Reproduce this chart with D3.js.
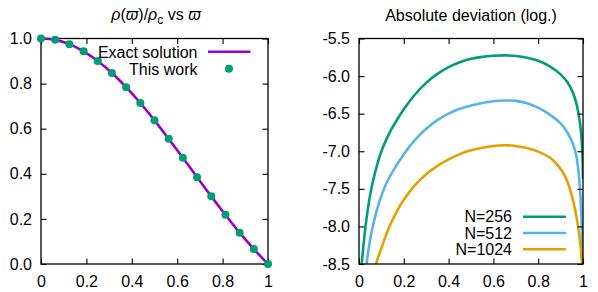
<!DOCTYPE html>
<html>
<head>
<meta charset="utf-8">
<script src="https://cdn.jsdelivr.net/npm/d3@7"></script>
<style>
  body { margin: 0; background: #fff; }
  svg { display: block; font-family: "Liberation Sans", Arial, sans-serif; }
</style>
</head>
<body>
<svg id="chart" width="598" height="292"></svg>
<script>
// Left panel: density profile
const omega = [0, 0.0625, 0.125, 0.1875, 0.25, 0.3125, 0.375, 0.4375, 0.5,
               0.5625, 0.625, 0.6875, 0.75, 0.8125, 0.875, 0.9375, 1];
const rhoExact = [1, 0.994, 0.975, 0.943, 0.900, 0.847, 0.784, 0.714, 0.637,
                  0.555, 0.471, 0.385, 0.300, 0.218, 0.139, 0.066, 0];
const rhoThisWork = [1, 0.994, 0.975, 0.943, 0.900, 0.847, 0.784, 0.714, 0.637,
                     0.555, 0.471, 0.385, 0.300, 0.218, 0.139, 0.066, 0];

const leftXTicks = [0, 0.2, 0.4, 0.6, 0.8, 1];
const leftXLabels = ["0", "0.2", "0.4", "0.6", "0.8", "1"];
const leftYTicks = [0, 0.2, 0.4, 0.6, 0.8, 1];
const leftYLabels = ["0.0", "0.2", "0.4", "0.6", "0.8", "1.0"];

// Right panel: log10 of absolute deviation
const devX256 = [0.005, 0.01, 0.02, 0.03, 0.04, 0.05, 0.06, 0.08, 0.1, 0.125, 0.15, 0.2,
                 0.25, 0.3, 0.35, 0.4, 0.45, 0.5, 0.55, 0.6, 0.65, 0.7, 0.75, 0.8,
                 0.85, 0.9, 0.93, 0.955, 0.97, 0.98, 0.988, 0.994, 0.998, 1.0];
const devY256 = [-8.80, -8.58, -8.25, -7.98, -7.76, -7.58, -7.43, -7.19, -7.00, -6.825, -6.68, -6.44,
                 -6.245, -6.09, -5.97, -5.88, -5.815, -5.77, -5.744, -5.73, -5.725, -5.732, -5.755, -5.797,
                 -5.867, -5.977, -6.08, -6.22, -6.36, -6.50, -6.66, -6.85, -7.10, -7.37];

const devX512 = [0.02, 0.03, 0.04, 0.05, 0.06, 0.08, 0.1, 0.125, 0.15, 0.2,
                 0.25, 0.3, 0.35, 0.4, 0.45, 0.5, 0.55, 0.6, 0.65, 0.7,
                 0.75, 0.8, 0.85, 0.9, 0.93, 0.955, 0.97, 0.978, 0.984, 0.989,
                 0.993, 0.996, 0.998, 1.0];
const devY512 = [-8.95, -8.60, -8.36, -8.17, -8.02, -7.78, -7.59, -7.41, -7.27, -7.04,
                 -6.85, -6.70, -6.585, -6.50, -6.435, -6.39, -6.357, -6.335, -6.325, -6.33,
                 -6.36, -6.42, -6.51, -6.63, -6.75, -6.90, -7.06, -7.22, -7.40, -7.62,
                 -7.88, -8.18, -8.46, -8.90];

const devX1024 = [0.05, 0.06, 0.075, 0.1, 0.125, 0.15, 0.2, 0.25, 0.3, 0.35,
                  0.4, 0.45, 0.5, 0.55, 0.6, 0.65, 0.7, 0.75, 0.8, 0.85,
                  0.88, 0.91, 0.93, 0.95, 0.965, 0.975, 0.983, 0.989, 0.994, 0.998, 1.0];
const devY1024 = [-8.93, -8.74, -8.51, -8.29, -8.08, -7.91, -7.645, -7.45, -7.305, -7.195,
                  -7.108, -7.038, -6.988, -6.953, -6.93, -6.92, -6.93, -6.957, -7.005, -7.08,
                  -7.16, -7.28, -7.40, -7.59, -7.78, -7.94, -8.11, -8.27, -8.44, -8.62, -8.80];

const rightXTicks = [0, 0.2, 0.4, 0.6, 0.8, 1];
const rightXLabels = ["0", "0.2", "0.4", "0.6", "0.8", "1"];
const rightYTicks = [-8.5, -8, -7.5, -7, -6.5, -6, -5.5];
const rightYLabels = ["-8.5", "-8.0", "-7.5", "-7.0", "-6.5", "-6.0", "-5.5"];

const seriesNames = ["N=256", "N=512", "N=1024"];
const seriesColors = ["#009e73", "#56b4e9", "#e69f00"];

const svg = d3.select("#chart");
svg.append("rect").attr("width", 598).attr("height", 292).attr("fill", "#fff");

const plotTop = 38.5, plotBottom = 264;

// draws a gnuplot-like boxed frame with inward mirrored ticks
function drawFrame(g, x, y, xTicks, xLabels, yTicks, yLabels) {
    const [x0, x1] = x.range();
    const [y0, y1] = y.range();

    const styleAxis = sel => {
        sel.select(".domain").remove();
        sel.selectAll("line").attr("stroke", "#000").attr("stroke-width", 1.1);
        sel.selectAll("text").attr("font-size", 16).attr("fill", "#000")
           .attr("font-family", '"Liberation Sans", Arial, sans-serif');
        sel.attr("font-family", null).attr("font-size", null);
    };

    g.append("g").attr("transform", `translate(0,${y0})`)
     .call(d3.axisBottom(x).tickValues(xTicks).tickFormat((d, i) => xLabels[i])
             .tickSizeInner(-5.5).tickSizeOuter(0).tickPadding(12))
     .call(styleAxis);
    g.append("g").attr("transform", `translate(0,${y1})`)
     .call(d3.axisTop(x).tickValues(xTicks).tickFormat("")
             .tickSizeInner(-5.5).tickSizeOuter(0))
     .call(styleAxis);
    g.append("g").attr("transform", `translate(${x0},0)`)
     .call(d3.axisLeft(y).tickValues(yTicks).tickFormat((d, i) => yLabels[i])
             .tickSizeInner(-5.5).tickSizeOuter(0).tickPadding(9))
     .call(styleAxis);
    g.append("g").attr("transform", `translate(${x1},0)`)
     .call(d3.axisRight(y).tickValues(yTicks).tickFormat("")
             .tickSizeInner(-5.5).tickSizeOuter(0))
     .call(styleAxis);

    g.append("rect")
     .attr("x", x0).attr("y", y1)
     .attr("width", x1 - x0).attr("height", y0 - y1)
     .attr("fill", "none").attr("stroke", "#000").attr("stroke-width", 1.3);
}

// ---- Left panel ----
const xL = d3.scaleLinear().domain([0, 1]).range([41, 268]);
const yL = d3.scaleLinear().domain([0, 1]).range([plotBottom, plotTop]);
const left = svg.append("g");
drawFrame(left, xL, yL, leftXTicks, leftXLabels, leftYTicks, leftYLabels);

const exactLine = d3.line()
    .x((d, i) => xL(omega[i]))
    .y(d => yL(d))
    .curve(d3.curveCatmullRom);

left.append("path")
    .attr("d", exactLine(rhoExact))
    .attr("fill", "none")
    .attr("stroke", "#9400d3")
    .attr("stroke-width", 2.6);

left.selectAll("circle.pt")
    .data(rhoThisWork)
    .enter()
    .append("circle")
    .attr("class", "pt")
    .attr("cx", (d, i) => xL(omega[i]))
    .attr("cy", d => yL(d))
    .attr("r", 4)
    .attr("fill", "#009e73");

// left title
const titleL = left.append("text")
    .attr("x", 156).attr("y", 20)
    .attr("text-anchor", "middle")
    .attr("font-size", 16);
titleL.append("tspan").attr("font-style", "italic").text("ρ");
titleL.append("tspan").text("(");
titleL.append("tspan").attr("font-style", "italic").text("ϖ");
titleL.append("tspan").text(")/");
titleL.append("tspan").attr("font-style", "italic").text("ρ");
titleL.append("tspan").attr("font-size", 12).attr("dy", 4).text("c");
titleL.append("tspan").attr("dy", -4).text(" vs ");
titleL.append("tspan").attr("font-style", "italic").text("ϖ");

// left legend
const keyL = left.append("g").attr("font-size", 16);
keyL.append("text").attr("x", 197.5).attr("y", 57.5).attr("text-anchor", "end").text("Exact solution");
keyL.append("line").attr("x1", 208).attr("x2", 250.5).attr("y1", 51.8).attr("y2", 51.8)
    .attr("stroke", "#9400d3").attr("stroke-width", 2.6);
keyL.append("text").attr("x", 197.5).attr("y", 74.5).attr("text-anchor", "end").text("This work");
keyL.append("circle").attr("cx", 229).attr("cy", 68.8).attr("r", 4).attr("fill", "#009e73");

// ---- Right panel ----
const xR = d3.scaleLinear().domain([0, 1]).range([359, 583]);
const yR = d3.scaleLinear().domain([-8.5, -5.5]).range([plotBottom, plotTop]);
const right = svg.append("g");

svg.append("defs").append("clipPath").attr("id", "clipR")
   .append("rect")
   .attr("x", xR(0)).attr("y", yR(-5.5))
   .attr("width", xR(1) - xR(0)).attr("height", yR(-8.5) - yR(-5.5));

const devSeries = [
    {xs: devX256, ys: devY256},
    {xs: devX512, ys: devY512},
    {xs: devX1024, ys: devY1024}
];

const curves = right.append("g").attr("clip-path", "url(#clipR)");
devSeries.forEach((s, k) => {
    const line = d3.line()
        .x((d, i) => xR(s.xs[i]))
        .y(d => yR(d))
        .curve(d3.curveCatmullRom.alpha(0.5));
    curves.append("path")
        .attr("d", line(s.ys))
        .attr("fill", "none")
        .attr("stroke", seriesColors[k])
        .attr("stroke-width", 2.6);
});

drawFrame(right, xR, yR, rightXTicks, rightXLabels, rightYTicks, rightYLabels);

right.append("text")
    .attr("x", 471).attr("y", 20.5)
    .attr("text-anchor", "middle")
    .attr("font-size", 16)
    .text("Absolute deviation (log.)");

// right legend
const keyR = right.append("g").attr("font-size", 16);
seriesNames.forEach((name, k) => {
    const yy = 216.7 + k * 16.3;
    keyR.append("text").attr("x", 512).attr("y", yy + 5.7).attr("text-anchor", "end").text(name);
    keyR.append("line").attr("x1", 523).attr("x2", 566).attr("y1", yy).attr("y2", yy)
        .attr("stroke", seriesColors[k]).attr("stroke-width", 2.6);
});
</script>
</body>
</html>
